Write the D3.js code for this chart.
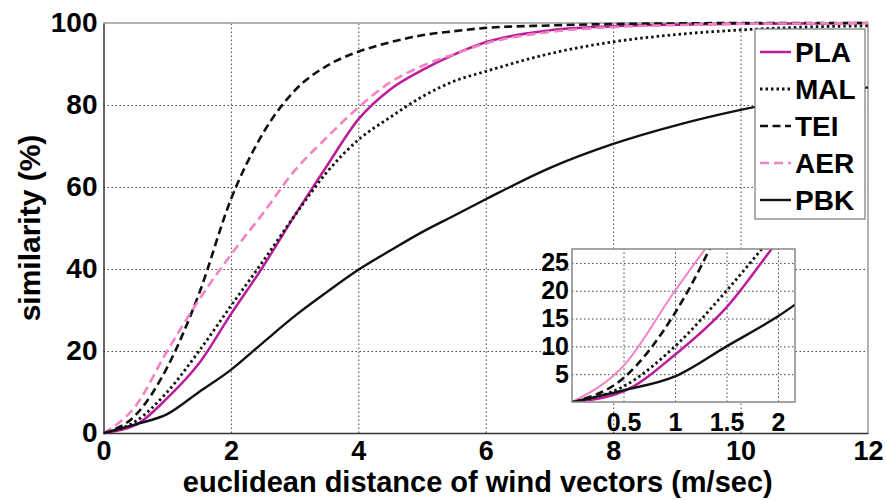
<!DOCTYPE html>
<html>
<head>
<meta charset="utf-8">
<script src="https://cdnjs.cloudflare.com/ajax/libs/d3/7.8.5/d3.min.js"></script>
<style>
    body { margin: 0; background: #fff; }
    text { font-family: Arial, "Liberation Sans", sans-serif; font-weight: bold; fill: #000; }
    .grid line { stroke: #444; stroke-width: 1; stroke-dasharray: 1.5,2.5; }
    .grid path { display: none; }
</style>
</head>
<body>
<div id="chart"></div>
<script>
// data (distance in m/sec, similarity in %)
var distance = [0, 0.5, 1, 1.5, 2, 2.5, 3, 3.5, 4, 4.5, 5, 5.5, 6, 7, 8, 9, 10, 11, 12];
var pla = [0, 1.9, 8.5, 17, 29, 40.5, 53, 65, 76.5, 83.8, 88.5, 92.3, 95.3, 98.2, 99.2, 99.6, 99.8, 99.9, 100];
var mal = [0, 2.8, 10, 20, 31, 41.8, 53, 63.5, 71.5, 77, 82, 85.8, 88.2, 92.5, 95.4, 97.2, 98.3, 99, 99.3];
var tei = [0, 4.3, 16, 34, 57, 73, 83.5, 89.5, 93, 95.3, 97, 98, 98.8, 99.4, 99.75, 99.9, 100, 100, 100];
var aer = [0, 6.5, 20, 32.5, 43.5, 53.5, 64, 72, 79.4, 85.5, 89.5, 92.4, 95, 97.8, 99, 99.5, 99.8, 99.9, 100];
var pbk = [0, 2.1, 4.6, 10, 15.4, 22, 28.5, 34.3, 39.8, 44.5, 49, 53, 57, 64.6, 70.5, 75.1, 78.8, 81.8, 84.3];

var seriesNames = ["PLA", "MAL", "TEI", "AER", "PBK"];
var xTicks = [0, 2, 4, 6, 8, 10, 12];
var yTicks = [0, 20, 40, 60, 80, 100];
var insetXTicks = [0.5, 1, 1.5, 2];
var insetYTicks = [5, 10, 15, 20, 25];

(function (window, undefined) {

    var valuesByName = {PLA: pla, MAL: mal, TEI: tei, AER: aer, PBK: pbk};

    //line styles for each series
    var styles = {
        PLA: {color: "#bb1d9a", dash: null, width: 2.5},
        MAL: {color: "#111", dash: "2.5,3", width: 2.8},
        TEI: {color: "#111", dash: "8,4.5", width: 2.6},
        AER: {color: "#f283c2", dash: "9,5", width: 2.6},
        PBK: {color: "#111", dash: null, width: 2.4}
    };

    var series = seriesNames.map(function(name){
        return {
            name: name,
            values: distance.map(function(d, i){ return {x: d, y: valuesByName[name][i]}; })
        };
    });

    var margin = {top: 23, right: 19, bottom: 67, left: 103.5},
        width = 887 - margin.left - margin.right,
        height = 500 - margin.top - margin.bottom;

    var svg = d3.select("#chart").append("svg")
        .attr("width", 887)
        .attr("height", 500);

    var g = svg.append("g")
        .attr("transform", "translate(" + margin.left + "," + margin.top + ")");

    var x = d3.scaleLinear().domain([0, 12]).range([0, width]);
    var y = d3.scaleLinear().domain([0, 100]).range([height, 0]);

    //grid
    g.append("g")
        .attr("class", "grid")
        .attr("transform", "translate(0," + height + ")")
        .call(d3.axisBottom(x).tickValues(xTicks.slice(1, -1)).tickSize(-height).tickFormat(""));
    g.append("g")
        .attr("class", "grid")
        .call(d3.axisLeft(y).tickValues(yTicks.slice(1, -1)).tickSize(-width).tickFormat(""));

    //frame
    g.append("line").attr("x1", 0).attr("x2", width).attr("y1", 0).attr("y2", 0)
        .attr("stroke", "#999").attr("stroke-width", 1.5);
    g.append("line").attr("x1", width).attr("x2", width).attr("y1", 0).attr("y2", height)
        .attr("stroke", "#999").attr("stroke-width", 1.5);

    //axes with labels
    var xAxis = g.append("g")
        .attr("transform", "translate(0," + height + ")")
        .call(d3.axisBottom(x).tickValues(xTicks).tickSize(0).tickPadding(8));
    xAxis.select(".domain").attr("stroke", "#333").attr("stroke-width", 1.5);
    xAxis.selectAll("text").style("font-size", "27px").attr("dy", "0.71em");

    var yAxis = g.append("g")
        .call(d3.axisLeft(y).tickValues(yTicks).tickSize(0).tickPadding(6));
    yAxis.select(".domain").attr("stroke", "#333").attr("stroke-width", 1.5);
    yAxis.selectAll("text").style("font-size", "28px");

    //axis titles
    svg.append("text")
        .attr("x", margin.left + width / 2 - 8)
        .attr("y", 492)
        .attr("text-anchor", "middle")
        .style("font-size", "29px")
        .text("euclidean distance of wind vectors (m/sec)");

    svg.append("text")
        .attr("transform", "translate(40," + (margin.top + height / 2) + ") rotate(-90)")
        .attr("text-anchor", "middle")
        .style("font-size", "30px")
        .text("similarity (%)");

    //main curves
    var line = d3.line()
        .x(function(d){ return x(d.x); })
        .y(function(d){ return y(d.y); })
        .curve(d3.curveMonotoneX);

    g.selectAll(".curve")
        .data(series)
        .enter().append("path")
        .attr("class", "curve")
        .attr("d", function(d){ return line(d.values); })
        .attr("fill", "none")
        .attr("stroke", function(d){ return styles[d.name].color; })
        .attr("stroke-width", function(d){ return styles[d.name].width; })
        .attr("stroke-dasharray", function(d){ return styles[d.name].dash; });

    //inset zoom of the low range
    var inset = {left: 572, top: 249, width: 223, height: 153};
    var ix = d3.scaleLinear().domain([0, 2.165]).range([0, inset.width]);
    var iy = d3.scaleLinear().domain([0, 27.5]).range([inset.height, 0]);

    var ig = svg.append("g")
        .attr("transform", "translate(" + inset.left + "," + inset.top + ")");

    ig.append("rect")
        .attr("width", inset.width)
        .attr("height", inset.height)
        .attr("fill", "#fff");

    ig.append("g")
        .attr("class", "grid")
        .attr("transform", "translate(0," + inset.height + ")")
        .call(d3.axisBottom(ix).tickValues(insetXTicks).tickSize(-inset.height).tickFormat(""));
    ig.append("g")
        .attr("class", "grid")
        .call(d3.axisLeft(iy).tickValues(insetYTicks).tickSize(-inset.width).tickFormat(""));

    svg.append("clipPath")
        .attr("id", "insetClip")
        .append("rect")
        .attr("width", inset.width)
        .attr("height", inset.height);

    var insetLine = d3.line()
        .x(function(d){ return ix(d.x); })
        .y(function(d){ return iy(d.y); })
        .curve(d3.curveMonotoneX);

    ig.append("g")
        .attr("clip-path", "url(#insetClip)")
        .selectAll(".insetCurve")
        .data(series)
        .enter().append("path")
        .attr("class", "insetCurve")
        .attr("d", function(d){ return insetLine(d.values); })
        .attr("fill", "none")
        .attr("stroke", function(d){ return styles[d.name].color; })
        .attr("stroke-width", function(d){ return d.name == "AER" ? 2 : styles[d.name].width; })
        //pink is drawn solid in the inset
        .attr("stroke-dasharray", function(d){ return d.name == "AER" ? null : styles[d.name].dash; });

    ig.append("rect")
        .attr("width", inset.width)
        .attr("height", inset.height)
        .attr("fill", "none")
        .attr("stroke", "#888")
        .attr("stroke-width", 1.5);

    var ixAxis = ig.append("g")
        .attr("transform", "translate(0," + inset.height + ")")
        .call(d3.axisBottom(ix).tickValues(insetXTicks).tickSize(0).tickPadding(11).tickFormat(d3.format("")));
    ixAxis.select(".domain").remove();
    ixAxis.selectAll("text").style("font-size", "25px").attr("dy", "0.71em");

    var iyAxis = ig.append("g")
        .call(d3.axisLeft(iy).tickValues(insetYTicks).tickSize(0).tickPadding(3));
    iyAxis.select(".domain").remove();
    iyAxis.selectAll("text").style("font-size", "25px");

    //legend
    var legend = svg.append("g").attr("transform", "translate(755,29)");
    legend.append("rect")
        .attr("width", 110)
        .attr("height", 190)
        .attr("fill", "#fff")
        .attr("stroke", "#777")
        .attr("stroke-width", 1.2);

    var rows = legend.selectAll(".legendRow")
        .data(series)
        .enter().append("g")
        .attr("class", "legendRow")
        .attr("transform", function(d, i){ return "translate(0," + (23 + i * 37) + ")"; });

    rows.append("line")
        .attr("x1", 5).attr("x2", 36)
        .attr("stroke", function(d){ return styles[d.name].color; })
        .attr("stroke-width", function(d){ return styles[d.name].width; })
        .attr("stroke-dasharray", function(d){ return styles[d.name].dash; });

    rows.append("text")
        .attr("x", 40)
        .attr("dy", "0.36em")
        .style("font-size", "28px")
        .text(function(d){ return d.name; });

})(window)
</script>
</body>
</html>
